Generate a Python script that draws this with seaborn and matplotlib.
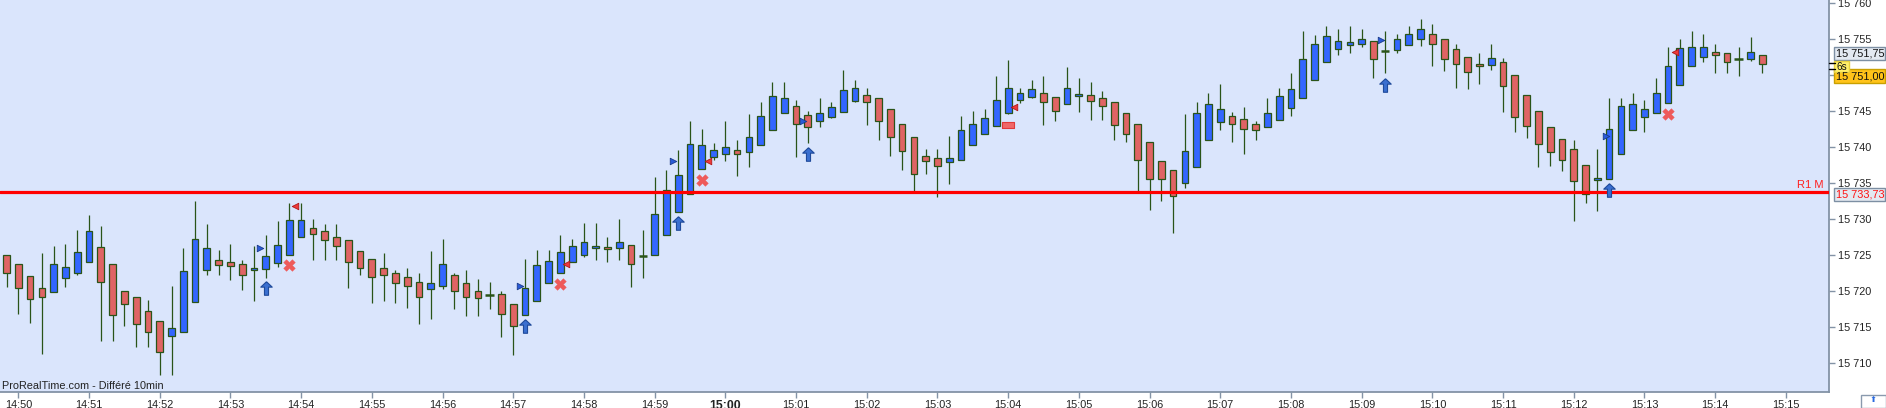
import numpy as np
import pandas as pd
import matplotlib
matplotlib.use("Agg")
import matplotlib.pyplot as plt
import matplotlib.transforms as mtransforms
from matplotlib.patches import Rectangle
from matplotlib.lines import Line2D
import seaborn as sns

# ---------------- data (10-second candles, first candle 14:49:50) ----------------
opens = [15725.0, 15723.75, 15722.1, 15720.4, 15719.9, 15721.8, 15722.6, 15724.0, 15726.1, 15723.75,
         15720.1, 15719.2, 15717.2, 15715.8, 15713.75, 15714.3, 15718.5, 15722.9, 15724.4, 15724.0,
         15723.75, 15722.9, 15723.05, 15723.9, 15725.1, 15727.5, 15728.75, 15728.3, 15727.6, 15727.1,
         15725.6, 15724.45, 15723.2, 15722.6, 15721.95, 15721.25, 15720.3, 15720.7, 15722.2, 15721.1,
         15720.1, 15719.5, 15719.6, 15718.2, 15716.7, 15718.6, 15721.1, 15722.6, 15724.0, 15725.1,
         15725.97, 15726.1, 15726.0, 15726.4, 15724.95, 15725.0, 15727.8, 15731.0, 15733.5, 15736.95,
         15738.6, 15739.0, 15739.6, 15739.3, 15740.3, 15742.4, 15744.7, 15745.8, 15744.45, 15743.6,
         15744.2, 15744.9, 15746.4, 15747.2, 15746.8, 15745.3, 15743.3, 15741.4, 15738.75, 15738.5,
         15737.9, 15738.2, 15740.3, 15741.8, 15742.9, 15744.7, 15746.5, 15746.95, 15747.5, 15746.95,
         15746.0, 15747.1, 15747.2, 15746.8, 15746.25, 15744.7, 15743.3, 15740.7, 15738.1, 15736.8,
         15735.0, 15737.2, 15741.0, 15743.5, 15744.3, 15743.9, 15743.2, 15742.8, 15743.75, 15745.4,
         15746.8, 15749.4, 15751.9, 15753.6, 15754.2, 15754.4, 15754.7, 15753.4, 15753.5, 15754.2,
         15755.0, 15755.7, 15755.0, 15753.6, 15752.6, 15751.5, 15751.4, 15751.8, 15750.1, 15747.2,
         15745.1, 15742.8, 15741.1, 15739.7, 15737.5, 15735.4, 15735.55, 15739.0, 15742.4, 15744.2,
         15744.7, 15746.1, 15748.6, 15751.25, 15752.5, 15753.2, 15753.05, 15752.3, 15752.2, 15752.8]
highs = [15725.0, 15723.75, 15722.1, 15725.3, 15726.3, 15726.6, 15728.5, 15730.6, 15729.1, 15723.75,
         15720.1, 15719.2, 15718.75, 15715.8, 15720.7, 15726.0, 15732.5, 15729.35, 15725.7, 15726.6,
         15724.4, 15726.25, 15727.8, 15729.7, 15732.2, 15732.2, 15730.0, 15729.3, 15729.3, 15727.1,
         15725.6, 15724.45, 15725.3, 15722.9, 15723.2, 15722.5, 15725.6, 15727.2, 15722.5, 15722.9,
         15721.7, 15721.25, 15720.0, 15718.2, 15724.45, 15725.7, 15725.7, 15727.8, 15727.2, 15729.45,
         15729.45, 15727.5, 15730.0, 15726.4, 15728.5, 15735.9, 15736.8, 15739.6, 15743.6, 15742.5,
         15740.6, 15743.6, 15741.0, 15744.6, 15746.25, 15749.0, 15749.0, 15746.5, 15745.0, 15746.8,
         15746.25, 15750.8, 15749.3, 15748.3, 15746.8, 15745.3, 15743.3, 15741.4, 15739.7, 15739.7,
         15741.5, 15744.3, 15745.0, 15745.3, 15749.9, 15752.1, 15748.3, 15749.3, 15749.9, 15746.95,
         15751.1, 15749.6, 15749.0, 15747.8, 15746.25, 15744.7, 15743.3, 15740.7, 15738.1, 15736.8,
         15744.6, 15746.25, 15747.5, 15748.75, 15744.9, 15745.55, 15743.6, 15746.8, 15748.3, 15750.3,
         15756.1, 15755.55, 15756.8, 15756.5, 15756.8, 15756.4, 15754.7, 15756.1, 15755.8, 15756.8,
         15757.8, 15757.1, 15755.0, 15754.3, 15752.6, 15753.05, 15754.3, 15752.4, 15750.1, 15747.2,
         15745.1, 15742.8, 15741.1, 15741.0, 15737.5, 15739.7, 15746.8, 15746.8, 15747.5, 15746.5,
         15749.6, 15753.9, 15755.1, 15756.1, 15755.8, 15754.3, 15753.05, 15753.9, 15755.3, 15752.8]
lows = [15720.6, 15716.9, 15715.6, 15711.3, 15719.9, 15720.6, 15722.2, 15724.0, 15713.1, 15713.1,
        15715.2, 15712.2, 15712.2, 15708.4, 15708.4, 15714.3, 15718.5, 15722.2, 15722.2, 15721.5,
        15720.2, 15718.7, 15721.9, 15723.4, 15725.1, 15727.5, 15724.4, 15724.4, 15724.3, 15720.4,
        15722.2, 15718.4, 15718.7, 15718.4, 15717.7, 15715.4, 15716.2, 15720.3, 15717.5, 15716.6,
        15716.5, 15717.5, 15713.7, 15711.2, 15716.7, 15718.6, 15721.1, 15722.5, 15724.0, 15724.7,
        15724.3, 15724.0, 15724.3, 15720.6, 15721.9, 15725.0, 15727.8, 15731.0, 15733.5, 15736.95,
        15738.3, 15738.1, 15736.0, 15737.2, 15740.3, 15742.4, 15744.7, 15738.7, 15740.6, 15742.8,
        15744.0, 15744.9, 15746.25, 15743.1, 15741.0, 15738.75, 15736.8, 15733.6, 15736.25, 15733.1,
        15734.95, 15738.2, 15740.3, 15741.8, 15742.9, 15744.6, 15746.1, 15746.8, 15743.1, 15743.6,
        15746.0, 15744.9, 15743.75, 15743.75, 15741.0, 15740.8, 15733.6, 15731.25, 15732.5, 15728.06,
        15734.3, 15737.2, 15741.0, 15742.4, 15740.8, 15739.0, 15741.0, 15742.8, 15743.75, 15744.3,
        15746.8, 15749.4, 15751.9, 15752.8, 15753.05, 15753.9, 15749.6, 15750.3, 15753.05, 15754.2,
        15754.0, 15751.25, 15750.55, 15748.3, 15748.05, 15748.75, 15750.8, 15744.9, 15742.1, 15741.25,
        15737.2, 15737.45, 15736.75, 15729.7, 15732.2, 15731.2, 15735.55, 15739.0, 15742.4, 15742.1,
        15744.7, 15746.1, 15748.6, 15751.25, 15751.8, 15750.3, 15750.3, 15749.9, 15752.0, 15750.3]
closes = [15722.5, 15720.4, 15718.9, 15719.2, 15723.75, 15723.3, 15725.4, 15728.3, 15721.25, 15716.7,
          15718.2, 15715.4, 15714.4, 15711.5, 15714.9, 15722.8, 15727.2, 15726.0, 15723.6, 15723.5,
          15722.2, 15723.2, 15724.9, 15726.4, 15729.9, 15729.9, 15727.9, 15727.1, 15726.3, 15724.0,
          15723.2, 15721.95, 15722.2, 15721.1, 15720.7, 15719.2, 15721.1, 15723.75, 15720.1, 15719.2,
          15719.0, 15719.5, 15716.8, 15715.1, 15720.4, 15723.6, 15724.2, 15725.4, 15726.25, 15726.8,
          15726.25, 15725.8, 15726.8, 15723.75, 15724.95, 15730.7, 15734.0, 15736.1, 15740.4, 15740.3,
          15739.6, 15740.1, 15739.0, 15741.4, 15744.3, 15747.1, 15746.8, 15743.2, 15742.8, 15744.7,
          15745.6, 15747.9, 15748.2, 15746.25, 15743.6, 15741.4, 15739.45, 15736.25, 15738.1, 15737.4,
          15738.5, 15742.4, 15743.3, 15744.0, 15746.5, 15748.3, 15747.5, 15748.05, 15746.25, 15745.0,
          15748.2, 15747.4, 15746.4, 15745.7, 15743.1, 15741.8, 15738.2, 15735.6, 15735.6, 15733.2,
          15739.45, 15744.7, 15746.0, 15745.3, 15743.3, 15742.5, 15742.4, 15744.7, 15747.1, 15748.05,
          15752.2, 15754.3, 15755.4, 15754.7, 15754.6, 15755.1, 15752.2, 15753.4, 15755.0, 15755.8,
          15756.4, 15754.4, 15752.2, 15751.5, 15750.4, 15751.25, 15752.4, 15748.5, 15744.2, 15742.9,
          15740.4, 15739.4, 15738.3, 15735.3, 15733.56, 15735.7, 15742.5, 15745.7, 15745.97, 15745.3,
          15747.6, 15751.25, 15753.75, 15753.9, 15753.9, 15752.8, 15751.8, 15752.3, 15753.3, 15751.5]
first_candle_index = -1          # candle index 0 = 14:50:00, 6 candles per minute
candles_per_minute = 6

minute_labels = ["14:50", "14:51", "14:52", "14:53", "14:54", "14:55", "14:56", "14:57", "14:58",
                 "14:59", "15:00", "15:01", "15:02", "15:03", "15:04", "15:05", "15:06", "15:07",
                 "15:08", "15:09", "15:10", "15:11", "15:12", "15:13", "15:14", "15:15"]
y_ticks = [15710, 15715, 15720, 15725, 15730, 15735, 15740, 15745, 15750, 15755, 15760]

pivot_r1 = 15733.73
price_bid = 15751.75
price_last = 15751.00

# signal markers (candle index, price)
arrow_idx = [21, 43, 56, 67, 116, 135]
arrow_val = [15720.4, 15715.1, 15729.45, 15739.0, 15748.7, 15734.0]
cross_idx = [23, 46, 58, 140]
cross_val = [15723.6, 15721.0, 15735.4, 15744.6]
buy_tri_idx = [20.5, 42.6, 55.6, 66.6, 115.65, 134.7]
buy_tri_val = [15726.0, 15720.7, 15738.1, 15743.7, 15754.9, 15741.6]
sell_tri_idx = [23.5, 46.5, 58.5, 84.5, 140.6]
sell_tri_val = [15731.8, 15723.75, 15738.1, 15745.55, 15753.3]
rect_idx = [84]
rect_val = [15743.05]

# ---------------- styling ----------------
sns.set_theme(style="white")
plt.rcParams['font.family'] = ['Liberation Sans', 'DejaVu Sans']

BG = '#DAE5FC'
UP = '#3366FF'
DOWN = '#E06464'
EDGE = '#2A5418'
AXC = '#8393A6'

W, H = 1886, 408
fig = plt.figure(figsize=(W / 100, H / 100), dpi=100)
fig.patch.set_facecolor('white')
ax = fig.add_axes([0, 16 / H, 1829 / W, 392 / H])
ax.set_facecolor(BG)

df = pd.DataFrame({"open": opens, "high": highs, "low": lows, "close": closes})
df["idx"] = np.arange(len(df)) + first_candle_index
df["x"] = df["idx"] / candles_per_minute
df["up"] = df["close"] > df["open"]
df["doji"] = df["close"] == df["open"]

# wicks
ax.vlines(df["x"], df["low"], df["high"], color=EDGE, lw=0.9, zorder=2)
# bodies
body = df[~df["doji"]]
ax.bar(body["x"], (body["close"] - body["open"]).abs(),
       bottom=np.minimum(body["open"], body["close"]), width=0.095,
       color=np.where(body["up"], UP, DOWN), edgecolor=EDGE, linewidth=0.9, zorder=3)
dj = df[df["doji"]]
ax.hlines(dj["open"], dj["x"] - 0.06, dj["x"] + 0.06, color=EDGE, lw=1.8, zorder=3)

# pivot line
ax.axhline(pivot_r1, color='#FF0000', lw=2.3, zorder=4)

# markers
arrow = [(0, 1), (0.85, 0.2), (0.3, 0.2), (0.3, -1), (-0.3, -1), (-0.3, 0.2), (-0.85, 0.2), (0, 1)]
sns.scatterplot(x=np.array(arrow_idx) / candles_per_minute, y=arrow_val, marker=arrow, s=95,
                color='#3A6FD0', edgecolor='#1F4A9A', linewidth=0.8, ax=ax, zorder=5)
sns.scatterplot(x=np.array(cross_idx) / candles_per_minute, y=cross_val, marker='X', s=70,
                color='#EE5A5A', edgecolor='#EE5A5A', linewidth=0.3, ax=ax, zorder=5)
sns.scatterplot(x=np.array(buy_tri_idx) / candles_per_minute, y=buy_tri_val, marker='>', s=22,
                color='#2A5BD8', edgecolor='#1A3A8A', linewidth=0.6, ax=ax, zorder=5)
sns.scatterplot(x=np.array(sell_tri_idx) / candles_per_minute, y=sell_tri_val, marker='<', s=22,
                color='#EE3A3A', edgecolor='#B01818', linewidth=0.6, ax=ax, zorder=5)
rect_marker = [(-1, -0.5), (1, -0.5), (1, 0.5), (-1, 0.5), (-1, -0.5)]
sns.scatterplot(x=np.array(rect_idx) / candles_per_minute, y=rect_val, marker=rect_marker, s=80,
                color='#F06868', edgecolor='#E03A3A', linewidth=0.8, ax=ax, zorder=5)

# axes
ax.set_xlim(-0.259, 25.61)
ax.set_ylim(15706.0, 15760.46)
ax.set_xlabel("")
ax.set_ylabel("")
ax.set_xticks(range(len(minute_labels)))
ax.set_xticklabels(minute_labels)
ax.yaxis.tick_right()
ax.set_yticks(y_ticks)
ax.set_yticklabels([f"{v:,}".replace(",", " ") for v in y_ticks])
for s in ['left', 'top']:
    ax.spines[s].set_visible(False)
for s in ['right', 'bottom']:
    ax.spines[s].set_visible(True)
    ax.spines[s].set_color(AXC)
    ax.spines[s].set_linewidth(1.3)
ax.tick_params(axis='both', which='major', direction='out', length=4, width=1,
               color=AXC, labelsize=7.8, labelcolor='#222222')
ax.tick_params(axis='x', pad=1.5, bottom=True)
ax.tick_params(axis='y', pad=2.5, right=True, left=False)
lbl = ax.get_xticklabels()[minute_labels.index("15:00")]
lbl.set_fontweight('bold')
lbl.set_fontsize(8.8)
ax.grid(False)

# in-plot texts
ax.text(0.0012, 6 / 392, "ProRealTime.com - Différé 10min", transform=ax.transAxes,
        fontsize=7.8, color='#222222', va='center', ha='left')
trans = mtransforms.blended_transform_factory(ax.transAxes, ax.transData)
ax.text(0.9972, pivot_r1 + 0.35, "R1 M", transform=trans, fontsize=8, color='#FF2020',
        ha='right', va='bottom')


# ---------------- right-hand price boxes (figure pixel coords) ----------------
def fx(px):
    return px / W


def fy(py):
    return 1 - py / H


def box(x0, y0, x1, y1, fc, ec):
    fig.patches.append(Rectangle((fx(x0), fy(y1)), fx(x1) - fx(x0), fy(y0) - fy(y1),
                                 transform=fig.transFigure, facecolor=fc, edgecolor=ec,
                                 lw=1.0, zorder=5))


box(1834.3, 46.7, 1885.3, 60.0, '#E3E9F1', '#7D8FA3')
fig.text(fx(1836.5), fy(53.6), f"{price_bid:,.2f}".replace(",", " ").replace(".", ","),
         fontsize=7.8, color='#111111', va='center', ha='left', zorder=6)
box(1834.3, 69.3, 1885.3, 83.3, '#FFC31A', '#C9A000')
fig.text(fx(1836.5), fy(76.6), f"{price_last:,.2f}".replace(",", " ").replace(".", ","),
         fontsize=7.8, color='#111111', va='center', ha='left', zorder=6)
box(1834.3, 61.0, 1848.7, 72.3, '#FFF06A', '#E6D040')
fig.text(fx(1841.5), fy(66.8), "6s", fontsize=7.2, color='#111111', va='center', ha='center',
         zorder=7)
for py in (63.3, 69.0):
    fig.lines.append(Line2D([fx(1829), fx(1835)], [fy(py), fy(py)], transform=fig.transFigure,
                            color='black', lw=1.0, zorder=6))
box(1834.3, 187.7, 1885.3, 200.7, '#E3E9F1', '#7D8FA3')
fig.text(fx(1836.5), fy(194.4), f"{pivot_r1:,.2f}".replace(",", " ").replace(".", ","),
         fontsize=7.8, color='#FF1010', va='center', ha='left', zorder=6)

# small corner button
box(1861, 395, 1886, 408, '#FFFFFF', '#8A9AAE')
fig.text(fx(1873.5), fy(399.5), "⬆", fontsize=6, color='#2A6AE0', va='center', ha='center',
         family=['DejaVu Sans'], zorder=6)

fig.savefig("out.png", dpi=100, facecolor='white')
